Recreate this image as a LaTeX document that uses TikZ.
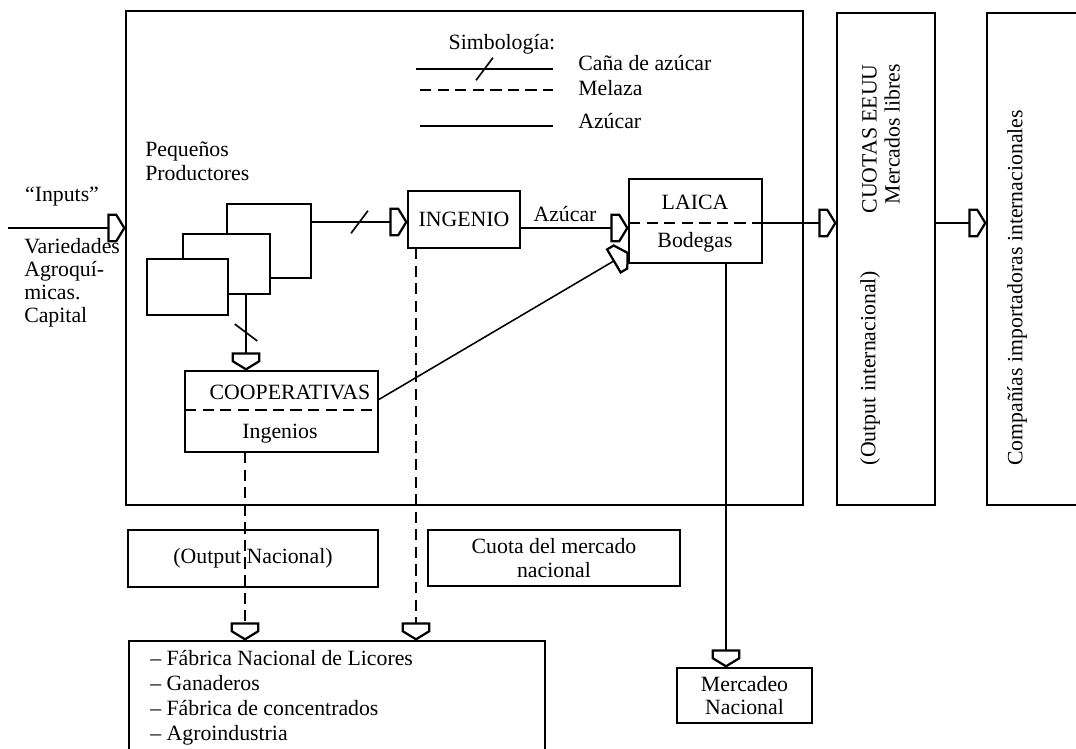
\documentclass[tikz,border=0pt]{standalone}
\usepackage{fontspec}
\setmainfont{Liberation Serif}
\usetikzlibrary{arrows.meta,decorations.markings,calc}

\pgfdeclarearrow{
  name = Pent,
  setup code = {
    \pgfarrowssettipend{0pt}
    \pgfarrowssetlineend{-11pt}
    \pgfarrowssetvisualbackend{-12.5pt}
    \pgfarrowssetbackend{-12.5pt}
    \pgfarrowsupperhullpoint{-12.5pt}{9.5pt}
    \pgfarrowssetvisualtipend{0pt}
    \pgfarrowsupperhullpoint{-7pt}{9.5pt}
    \pgfarrowsupperhullpoint{0pt}{0pt}
  },
  drawing code = {
    \pgfsetdash{}{0pt}
    \pgfsetlinewidth{1.6pt}
    \pgfsetmiterjoin
    \pgfpathmoveto{\pgfqpoint{-1.2pt}{0pt}}
    \pgfpathlineto{\pgfqpoint{-7pt}{9.5pt}}
    \pgfpathlineto{\pgfqpoint{-12.5pt}{9.5pt}}
    \pgfpathlineto{\pgfqpoint{-12.5pt}{-9.5pt}}
    \pgfpathlineto{\pgfqpoint{-7pt}{-9.5pt}}
    \pgfpathclose
    \pgfsetfillcolor{white}
    \pgfusepathqfillstroke
  }
}

\tikzset{
  every node/.style={font=\fontsize{15.5}{16.5}\selectfont},
  box/.style={draw, line width=1.3pt, fill=white, inner sep=0pt, outer sep=0pt},
  wh/.style 2 args={minimum width=#1*0.025cm, minimum height=#2*0.025cm},
  txt/.style={inner sep=0pt},
  flow/.style={line width=1.1pt, -{Pent}},
  melaza/.style={line width=1.1pt, dash pattern=on 8pt off 4.5pt},
  cane/.style={postaction={decorate, decoration={markings,
      mark=at position 0.5 with {\draw[solid, line width=1.2pt, -] (-6pt,-8pt) -- (6pt,8pt);}}}},
}

\begin{document}
\begin{tikzpicture}[x=0.025cm, y=-0.025cm]
\useasboundingbox (0,0) rectangle (1076,748);
\clip (0,0) rectangle (1076,748);
\fill[white] (0,0) rectangle (1076,748);

% big frames
\node[box, wh={677}{494}, anchor=north west] (sys) at (126,11) {};
\node[box, wh={98}{492}, anchor=north west] (cuotas) at (837,13) {};
\node[box, wh={110}{492}, anchor=north west] (comp) at (987,13) {};

% legend
\node[txt] (simb) at (502,44) {Simbología:};
\node[txt, anchor=west] (lcana) at (578,63) {Caña de azúcar};
\node[txt, anchor=west] (lmel) at (578,88) {Melaza};
\node[txt, anchor=west] (lazu) at (578,121) {Azúcar};
\coordinate (lg1a) at (416,69);
\coordinate (lg1b) at (553,69);
\coordinate (lg2a) at (420,90);
\coordinate (lg2b) at (553,90);
\coordinate (lg3a) at (420,126);
\coordinate (lg3b) at (553,126);
\draw[line width=1.1pt, cane] (lg1a) -- (lg1b);
\draw[melaza] (lg2a) -- (lg2b);
\draw[line width=1.1pt] (lg3a) -- (lg3b);

% inputs
\node[txt] (inputs) at (62,197) {“Inputs”};
\node[txt, anchor=north west, align=left, font=\fontsize{15.5}{16.4}\selectfont] (invar) at (24,238)
  {Variedades\\Agroquí-\\micas.\\Capital};

% pequenos productores
\node[txt, anchor=north west, align=left] (pptxt) at (145,142) {Pequeños\\Productores};
\node[box, wh={84}{74}, anchor=north west] (pp3) at (227,204) {};
\node[box, wh={87}{60}, anchor=north west] (pp2) at (183,234) {};
\node[box, wh={81}{56}, anchor=north west] (pp1) at (147,259) {};

% ingenio
\node[box, wh={112}{57}, anchor=north west] (ing) at (408,191) {INGENIO};

% laica
\node[box, wh={133}{84}, anchor=north west] (laica) at (629,179) {};
\node[txt] (laicat) at (695,202) {LAICA};
\node[txt] (bodt) at (695,242) {Bodegas};
\coordinate (ldash) at (629,223);
\draw[melaza] (ldash) -- (ldash -| laica.east);

% cooperativas
\node[box, wh={193}{81}, anchor=north west] (coop) at (185,371) {};
\node[txt] (coopt) at (290,392) {COOPERATIVAS};
\node[txt] (ingt) at (280,434) {Ingenios};
\coordinate (cdash) at (185,410);
\draw[melaza] (cdash) -- (cdash -| coop.east);

% lower boxes
\node[box, wh={250}{57}, anchor=north west] (outn) at (128,530) {(Output Nacional)};
\node[box, wh={252}{56}, anchor=north west, align=center] (cuota) at (428,530) {Cuota del mercado\\nacional};
\node[box, wh={416}{140}, anchor=north west] (lista) at (129,641) {};
\node[txt, anchor=north west, align=left, font=\fontsize{15.5}{17.8}\selectfont] (listat) at (150,650)
  {– Fábrica Nacional de Licores\\– Ganaderos\\– Fábrica de concentrados\\– Agroindustria};
\node[box, wh={135}{55}, anchor=north west, align=center] (merc) at (677,668) {Mercadeo\\Nacional};

% rotated texts
\node[txt, rotate=90, anchor=east, align=right] (cuotast) at (881,64) {CUOTAS EEUU\\Mercados libres};
\node[txt, rotate=90] (outi) at (870,368) {(Output internacional)};
\node[txt, rotate=90] (compt) at (1017,288) {Compañías importadoras internacionales};

% connectors
\coordinate (inL) at (8,228);
\draw[flow] (inL) -- (inL -| sys.west);

\coordinate (ppo) at (311,222);
\draw[flow, cane] (ppo) -- (ppo -| ing.west);

\coordinate (ppd) at (246,294);
\draw[flow, cane] (ppd) -- (ppd |- coop.north);

\coordinate (ia) at (520,228);
\draw[flow] (ia) -- (ia -| laica.west);
\node[txt] (azl) at (565,214) {Azúcar};

\coordinate (cs) at (378,400);
\coordinate (le) at (629,252);
\draw[flow] (cs) -- (le);

\draw[flow] (ldash -| laica.east) -- (ldash -| cuotas.west);
\draw[flow] (ldash -| cuotas.east) -- (ldash -| comp.west);

\coordinate (lm) at (726,263);
\draw[flow] (lm) -- (lm |- merc.north);

\coordinate (cl) at (245,452);
\draw[flow, melaza] (cl) -- (cl |- lista.north);
\coordinate (il) at (416,248);
\draw[flow, melaza] (il) -- (il |- lista.north);
\end{tikzpicture}
\end{document}
